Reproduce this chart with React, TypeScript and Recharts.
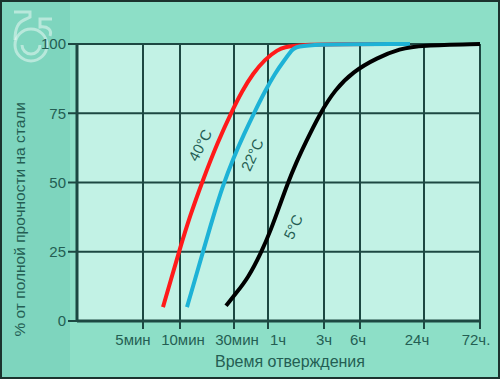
import React from 'react';
import { CartesianGrid, Line, LineChart, ReferenceDot, XAxis, YAxis } from 'recharts';

// x is the position along the (non-uniform) time axis, 0..403
const tickPositions = [66, 103, 157, 191, 247, 283, 347, 403];
const tickLabels = ['5мин', '10мин', '30мин', '1ч', '3ч', '6ч', '24ч', '72ч.'];
const yTicks = [0, 25, 50, 75, 100];

const red40 = [
  { t: 86, v: 5 }, { t: 94, v: 15 }, { t: 102, v: 25 }, { t: 113, v: 38 },
  { t: 126, v: 51 }, { t: 140, v: 64 }, { t: 155, v: 75.8 }, { t: 165, v: 83 },
  { t: 176, v: 89.4 }, { t: 188, v: 94.5 }, { t: 200, v: 97.8 }, { t: 213, v: 100 },
  { t: 318, v: 100 },
];
const cyan22 = [
  { t: 110, v: 5 }, { t: 118, v: 15 }, { t: 126, v: 25 }, { t: 136, v: 37.5 },
  { t: 146, v: 49 }, { t: 156, v: 58.5 }, { t: 167, v: 67.5 }, { t: 178, v: 75.8 },
  { t: 188, v: 83 }, { t: 198, v: 89.4 }, { t: 207, v: 94 }, { t: 215, v: 97.8 },
  { t: 220, v: 100 }, { t: 333, v: 100 },
];
const black5 = [
  { t: 149, v: 5.5 }, { t: 159, v: 10 }, { t: 171, v: 15.5 }, { t: 184, v: 24.5 },
  { t: 194, v: 33 }, { t: 203, v: 42 }, { t: 211, v: 50 }, { t: 219, v: 57 },
  { t: 228, v: 64 }, { t: 243, v: 75 }, { t: 258, v: 83.5 }, { t: 276, v: 90 },
  { t: 300, v: 95 }, { t: 323, v: 98.3 }, { t: 343, v: 99.5 }, { t: 403, v: 100 },
];

const curveLabels = [
  { text: '40°C', t: 123, v: 63.5, angle: -62 },
  { text: '22°C', t: 175, v: 60, angle: -65 },
  { text: '5°C', t: 216, v: 34, angle: -65 },
];

const textColor = '#245e53';
const gridColor = '#1d4842';
const font = '"Liberation Sans", Arial, sans-serif';

// small nudges so labels sit like in the original scan
const labelShift: Record<string, number> = { '5мин': -10, '10мин': 3, '30мин': 3, '1ч': 10, '6ч': -2, '24ч': -7, '72ч.': -4 };

const XTick = (props: any) => {
  const { x, y, payload } = props;
  const label = tickLabels[tickPositions.indexOf(payload.value)];
  return (
    <text x={x + (labelShift[label] || 0)} y={y + 14} textAnchor="middle" fill={textColor} fontSize={15} fontFamily={font}>
      {label}
    </text>
  );
};

const CurveLabel = ({ cx, cy, text, angle }: any) => (
  <text
    x={cx}
    y={cy}
    transform={`rotate(${angle} ${cx} ${cy})`}
    textAnchor="middle"
    dominantBaseline="central"
    fill={textColor}
    fontSize={15}
    fontFamily={font}
  >
    {text}
  </text>
);

export default function App() {
  return (
    <div style={{ position: 'relative', width: 500, height: 379, background: '#8ddfc7', fontFamily: font }}>
      <style>{'body{margin:0}'}</style>
      <div style={{ position: 'absolute', left: 0, top: 0, width: 70, height: 379, background: '#7ed5be' }} />
      <svg width={70} height={80} style={{ position: 'absolute', left: 0, top: 0 }}>
        <g fill="none" stroke="rgba(255,255,255,0.45)" strokeWidth={3}>
          <circle cx={31} cy={45} r={16} />
          <path d="M22 45 A9 9 0 0 0 40 45" />
          <path d="M15 40 C15 28 18 22 26 19 L30 17 L30 12 L14 12" />
          <path d="M52 19 L40 19 L40 27 C48 26 52 30 50 36" />
        </g>
      </svg>
      <div style={{ position: 'absolute', left: 0, top: 0 }}>
        <LineChart width={500} height={379} margin={{ top: 44, right: 20, bottom: 28, left: 0 }}>
          <CartesianGrid fill="#c2f2e5" fillOpacity={1} stroke={gridColor} strokeWidth={2} />
          <XAxis
            dataKey="t"
            type="number"
            domain={[0, 403]}
            ticks={tickPositions}
            interval={0}
            height={30}
            tickSize={8}
            tick={<XTick />}
            axisLine={{ stroke: gridColor, strokeWidth: 3 }}
            tickLine={{ stroke: gridColor, strokeWidth: 2 }}
            allowDataOverflow
          />
          <YAxis
            type="number"
            domain={[0, 100]}
            ticks={yTicks}
            width={77}
            tickSize={9}
            tickMargin={2}
            tick={{ fill: textColor, fontSize: 15, fontFamily: font }}
            axisLine={{ stroke: gridColor, strokeWidth: 3 }}
            tickLine={{ stroke: gridColor, strokeWidth: 2 }}
            label={{
              value: '% от полной прочности на стали',
              angle: -90,
              position: 'insideLeft',
              dx: 14,
              dy: 154,
              fill: textColor,
              fontSize: 15.5,
              fontFamily: font,
              style: { textAnchor: 'start' },
            }}
          />
          <Line data={red40} dataKey="v" type="basis" stroke="#ff1a1a" strokeWidth={4} dot={false} isAnimationActive={false} />
          <Line data={cyan22} dataKey="v" type="basis" stroke="#1db2d6" strokeWidth={4} dot={false} isAnimationActive={false} />
          <Line data={black5} dataKey="v" type="basis" stroke="#000000" strokeWidth={4} dot={false} isAnimationActive={false} />
          {curveLabels.map((c) => (
            <ReferenceDot
              key={c.text}
              x={c.t}
              y={c.v}
              r={0}
              shape={(p: any) => <CurveLabel cx={p.cx} cy={p.cy} text={c.text} angle={c.angle} />}
            />
          ))}
        </LineChart>
      </div>
      <div style={{ position: 'absolute', left: 0, top: 353, width: 580, textAlign: 'center', color: textColor, fontSize: 16 }}>
        Время отверждения
      </div>
      <div style={{ position: 'absolute', inset: 0, border: '2px solid #1b332e', pointerEvents: 'none' }} />
    </div>
  );
}
